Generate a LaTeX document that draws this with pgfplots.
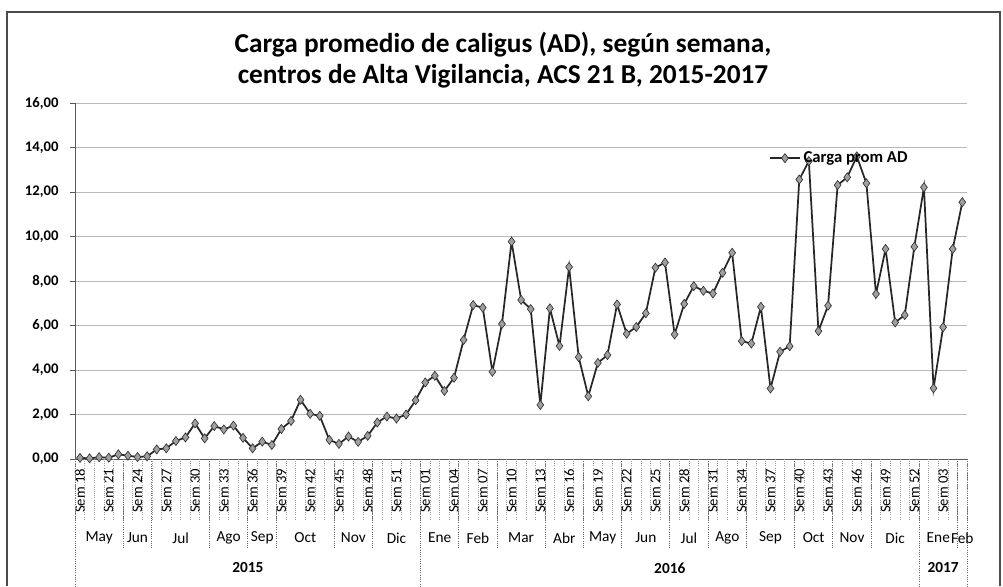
\documentclass[border=0pt]{standalone}
\usepackage{fontspec}
\setmainfont{Carlito}
\usepackage{pgfplots}
\pgfplotsset{compat=1.18}
\begin{document}
\begin{tikzpicture}
\begin{scope}[x=0.75pt,y=0.75pt]
\path[use as bounding box] (-75.2,-127) rectangle (927.8,459);
\end{scope}
\begin{axis}[
  at={(0,0)}, anchor=south west, scale only axis,
  width=668.925pt, height=267pt,
  xmin=-0.5, xmax=92.5, ymin=0, ymax=16,
  axis lines=left, axis line style={-, gray!70!black, line width=0.6pt},
  ytick={0,2,...,16},
  yticklabel style={/pgf/number format/fixed, /pgf/number format/fixed zerofill, /pgf/number format/precision=2, /pgf/number format/use comma, /pgf/number format/assume math mode=true, font=\fontsize{11}{13}\selectfont\bfseries, xshift=-5pt},
  tick align=outside, major tick length=4pt,
  ytick style={gray!70!black, line width=0.6pt},
  ymajorgrids, major grid style={gray!55, line width=0.7pt},
  xtick={0,3,...,90},
  xticklabels={Sem 18,Sem 21,Sem 24,Sem 27,Sem 30,Sem 33,Sem 36,Sem 39,Sem 42,Sem 45,Sem 48,Sem 51,Sem 01,Sem 04,Sem 07,Sem 10,Sem 13,Sem 16,Sem 19,Sem 22,Sem 25,Sem 28,Sem 31,Sem 34,Sem 37,Sem 40,Sem 43,Sem 46,Sem 49,Sem 52,Sem 03},
  xticklabel style={rotate=90, anchor=east, font=\fontsize{11}{13}\selectfont},
  xtick style={draw=none},
  legend style={draw=none, fill=none, at={(0.773,0.845)}, anchor=west, font=\fontsize{12.5}{14}\selectfont\bfseries},
  legend image code/.code={\draw[mark repeat=2,mark phase=2,#1] plot coordinates {(0cm,0cm) (0.4cm,0cm) (0.8cm,0cm)};},
]
\addplot[black!85, line width=1.3pt, mark=diamond*, mark size=3.4pt,
  mark options={fill=gray!75, draw=gray!40!black, line width=0.5pt, solid}]
coordinates {
(0,0.05)(1,0.03)(2,0.08)(3,0.06)(4,0.21)(5,0.15)(6,0.09)(7,0.12)(8,0.43)(9,0.48)
(10,0.81)(11,0.97)(12,1.60)(13,0.93)(14,1.48)(15,1.33)(16,1.50)(17,0.95)(18,0.48)(19,0.78)
(20,0.63)(21,1.35)(22,1.71)(23,2.66)(24,2.03)(25,1.94)(26,0.86)(27,0.68)(28,1.01)(29,0.77)
(30,1.04)(31,1.64)(32,1.91)(33,1.82)(34,2.00)(35,2.64)(36,3.44)(37,3.74)(38,3.06)(39,3.65)
(40,5.35)(41,6.92)(42,6.80)(43,3.92)(44,6.07)(45,9.77)(46,7.15)(47,6.74)(48,2.43)(49,6.77)
(50,5.08)(51,8.63)(52,4.58)(53,2.82)(54,4.32)(55,4.67)(56,6.95)(57,5.63)(58,5.93)(59,6.55)
(60,8.60)(61,8.83)(62,5.60)(63,6.97)(64,7.77)(65,7.56)(66,7.44)(67,8.37)(68,9.27)(69,5.30)
(70,5.19)(71,6.84)(72,3.17)(73,4.82)(74,5.07)(75,12.56)(76,13.39)(77,5.75)(78,6.89)(79,12.31)
(80,12.66)(81,13.60)(82,12.39)(83,7.42)(84,9.44)(85,6.14)(86,6.47)(87,9.54)(88,12.21)(89,3.18)
(90,5.92)(91,9.44)(92,11.54)
};
\addlegendentry{Carga prom AD}
\end{axis}
\begin{scope}[x=0.75pt,y=0.75pt]
\def\cw{9.59}
\foreach \k in {0,...,93} \draw[gray!80, densely dotted, line width=0.6pt] (\k*\cw,0) -- (\k*\cw,-61);
\foreach \k in {0,5,8,14,18,21,27,31,36,40,44,49,53,57,62,66,70,75,79,83,88,92,93}
  \draw[gray!80!black, densely dotted, line width=0.7pt] (\k*\cw,0) -- (\k*\cw,-89);
\foreach \k in {0,36,88,93} \draw[gray!80!black, densely dotted, line width=0.7pt] (\k*\cw,0) -- (\k*\cw,-127);
\foreach \a/\b/\m in {0/5/May,5/8/Jun,8/14/Jul,14/18/Ago,18/21/Sep,21/27/Oct,27/31/Nov,31/36/Dic,
  36/40/Ene,40/44/Feb,44/49/Mar,49/53/Abr,53/57/May,57/62/Jun,62/66/Jul,66/70/Ago,70/75/Sep,75/79/Oct,79/83/Nov,83/88/Dic,88/92/Ene,92/93/Feb}
  \node[font=\fontsize{11.5}{13}\selectfont, inner sep=0pt] at ({(\a+\b)/2*\cw},-79) {\m};
\foreach \a/\b/\m in {0/36/2015,36/88/2016,88/93/2017}
  \node[font=\fontsize{11.5}{13}\selectfont\bfseries, inner sep=0pt] at ({(\a+\b)/2*\cw},-109) {\m};
\draw[gray!60!black, line width=0.8pt] (-68.2,-127) -- (-68.2,447) -- (924.8,447) -- (924.8,-127);
\node[align=center, font=\fontsize{20.5}{23}\selectfont\bfseries] at (427.8,399)
  {Carga promedio de caligus (AD), según semana,\\centros de Alta Vigilancia, ACS 21 B, 2015-2017};
\end{scope}
\end{tikzpicture}
\end{document}
